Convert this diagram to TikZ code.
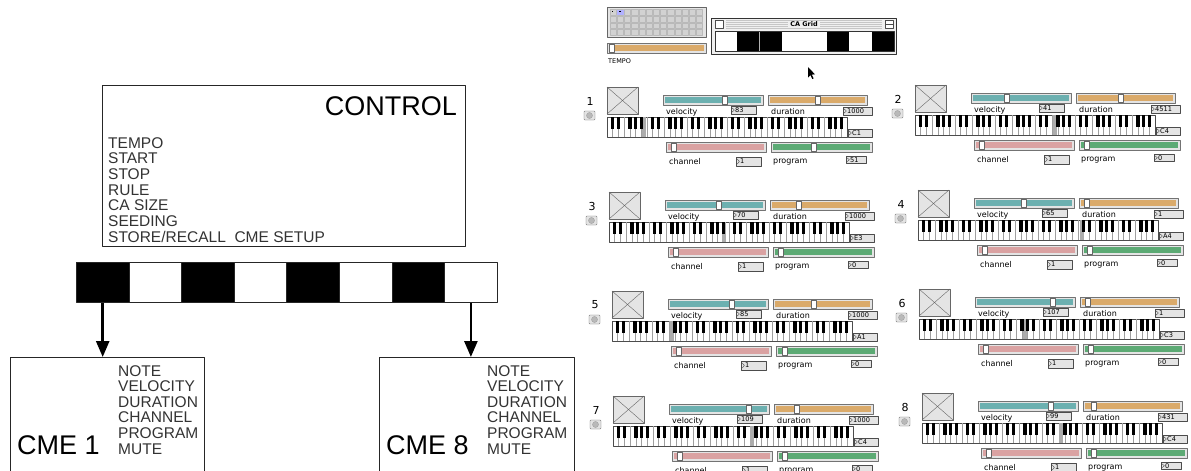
\documentclass[tikz,border=0pt]{standalone}
\usepackage{fontspec}
\setmainfont{Liberation Sans}
\newfontfamily\genevafont{DejaVu Sans}
\usetikzlibrary{positioning,arrows.meta}

\definecolor{velcol}{RGB}{108,176,176}
\definecolor{durcol}{RGB}{218,170,106}
\definecolor{chancol}{RGB}{218,162,162}
\definecolor{progcol}{RGB}{92,170,116}
\definecolor{panelgray}{RGB}{228,228,228}

% slider: x1 y1 x2 y2 colour position
\newcommand{\mslider}[6]{%
  \draw[fill=panelgray, draw=black!55] (#1,#2) rectangle (#3,#4);
  \fill[#5] ({#1+2},{#2+2}) rectangle ({#3-2},{#4-2});
  \draw[fill=white, draw=black!60] ({#1+2+#6*(#3-#1-9)},{#2+1}) rectangle ({#1+7+#6*(#3-#1-9)},{#4-1});
}
% number box: x1 y1 x2 y2 text name
\newcommand{\numbox}[6]{%
  \draw[fill=panelgray, draw=black!70] (#1,#2) rectangle (#3,#4);
  \draw[black!70, line width=0.4pt] ({#1+1.2},{#2+2}) -- ({#1+3.4},{(#2+#4)/2}) -- ({#1+1.2},{#4-2});
  \node[tinytxt] (#6) at ({#1+4},{(#2+#4)/2}) {#5};
}

\tikzset{
  box/.style={draw=black!85, line width=1pt, rectangle, inner sep=0pt, anchor=north west},
  bigtxt/.style={font=\fontsize{27}{27}\selectfont, inner sep=0pt},
  item/.style={font=\fontsize{15.5}{15.7}\selectfont, text=black!80, inner sep=0pt, anchor=base west},
  cell/.style={draw=black!85, line width=0.8pt, minimum width=52.6pt, minimum height=40pt, inner sep=0pt, anchor=north west},
  arr/.style={-{Triangle[length=16pt,width=13pt]}, line width=2.6pt},
  lbl/.style={font=\genevafont\fontsize{8}{8}\selectfont, inner sep=0pt, anchor=base west},
  tinytxt/.style={font=\genevafont\fontsize{6.6}{6.6}\selectfont, inner sep=0pt, anchor=west},
  numtxt/.style={font=\genevafont\fontsize{11}{11}\selectfont, inner sep=0pt},
}

\begin{document}
\begin{tikzpicture}[x=1pt, y=-1pt, line join=round]
\useasboundingbox (0,0) rectangle (1191,471);
\clip (0,0) rectangle (1191,471);

% control box
\node[box, minimum width=363pt, minimum height=161pt] (ctrl) at (102,85) {};
\node[bigtxt, anchor=base east] (ctrltitle) at (457,115) {CONTROL};
\foreach \w [count=\i] in {TEMPO,START,STOP,RULE,CA SIZE,SEEDING,STORE/RECALL\ \ CME SETUP}
  \node[item] (citem\i) at (108,{148+(\i-1)*15.7}) {\w};

% cell strip
\foreach \i in {0,...,7}{
  \pgfmathsetmacro{\cc}{ifthenelse(mod(\i,2)==0,"black","white")}
  \node[cell, fill=\cc] (cell\i) at ({76+\i*52.6},262) {};
}

% CME boxes
\node[box, minimum width=194pt, minimum height=130pt] (cme1) at (10,357) {};
\node[box, minimum width=195pt, minimum height=130pt] (cme8) at (379,357) {};
\node[bigtxt, anchor=base west] (cmet1) at (17,454) {CME 1};
\node[bigtxt, anchor=base west] (cmet8) at (386,454) {CME 8};
\foreach \w [count=\i] in {NOTE,VELOCITY,DURATION,CHANNEL,PROGRAM,MUTE}{
  \node[item] (ma\i) at (118,{376+(\i-1)*15.6}) {\w};
  \node[item] (mb\i) at (487,{376+(\i-1)*15.6}) {\w};
}
\draw[arr] (cell0.south) -- (cell0.south |- cme1.north);
\draw[arr] (cell7.south) -- (cell7.south |- cme8.north);

% small grid window and tempo
\draw[fill=panelgray, draw=black!60] (607,7) rectangle (706,37);
\foreach \r in {0,...,3}
  \foreach \c in {0,...,12}
    \draw[fill=gray!35, draw=gray!55] ({610+\c*7.2},{9.5+\r*6.6}) rectangle ++(6.2,5.6);
\fill[blue!30] (617.4,9.5) rectangle ++(6.2,5.6);
\fill[black] (612,11) rectangle ++(1.4,1.4);
\fill[black] (619.2,11) rectangle ++(1.4,1.4);
\mslider{607}{43}{706}{53}{durcol}{0}
\node[tinytxt, anchor=base west, font=\genevafont\fontsize{6.5}{6.5}\selectfont] (tempo) at (608,63) {TEMPO};

% CA Grid window
\draw[fill=gray!12, draw=black!80, line width=0.9pt] (711,18) rectangle (896,54);
\foreach \yy in {20.5,22.5,...,28.5}
  \draw[gray!45, line width=0.5pt] (726,\yy) -- (882,\yy);
\node[fill=gray!12, inner xsep=2pt, inner ysep=0.5pt, font=\genevafont\bfseries\fontsize{6.5}{6.5}\selectfont] (catitle) at (804,24.5) {CA Grid};
\draw[fill=white, draw=black!70] (715,20.5) rectangle (723,28.5);
\draw[fill=white, draw=black!70] (885,20.5) rectangle (893,28.5);
\draw[black!70] (885,24.5) -- (893,24.5);
\foreach \i/\c in {0/white,1/black,2/black,3/white,4/white,5/black,6/white,7/black}
  \fill[\c] ({715+\i*22.4},31) rectangle ++(22.4,20.5);
\draw[gray!60, line width=0.8pt] (759.8,31) -- (759.8,51.5);
\draw[black!80] (715,31) rectangle (894.2,51.5);

% mouse pointer
\fill (808,67) -- (808,77.5) -- (810.5,75.2) -- (812.3,79) -- (813.6,78.4) -- (811.8,74.6) -- (815,74.4) -- cycle;

% eight CME panels
\foreach \pn/\ox/\oy/\vpos/\vval/\dpos/\dval/\nname/\kx/\ppos/\pval in {
  1/607/87/0.63/83/0.5/1000/C1/37/0.41/51,
  2/915/85/0.34/41/0.45/4511/C4/140/0.03/0,
  3/609/192/0.54/70/0.27/1000/E3/115/0.04/0,
  4/918/190/0.5/65/0.03/1/A4/164/0.04/0,
  5/612/291/0.65/85/0.4/1000/A1/60/0.05/0,
  6/919/289/0.8/107/0.03/1/C3/106/0.04/0,
  7/613/396/0.83/109/0.2/1000/C4/139/0.04/0,
  8/922/393/0.75/99/0.07/431/C4/139/0.04/0}{
\begin{scope}[shift={(\ox,\oy)}]
  \node[numtxt] (num\pn) at (-17,14) {\pn};
  \draw[fill=panelgray, draw=black!60, rounded corners=0.8pt] (-23,24) rectangle (-12,33);
  \draw[fill=gray!55, draw=gray!75] (-17.5,28.5) circle (3);
  \draw[fill=panelgray, draw=black!60] (0,0) rectangle (31,27);
  \draw[black!60] (0,0) -- (31,27) (31,0) -- (0,27);
  \mslider{56}{8}{156}{18}{velcol}{\vpos}
  \node[lbl] (vl\pn) at (59,27) {velocity};
  \numbox{124}{19}{149}{27}{\vval}{vb\pn}
  \mslider{161}{8}{260}{18}{durcol}{\dpos}
  \node[lbl] (dl\pn) at (164,27) {duration};
  \numbox{236}{20}{265}{28}{\dval}{db\pn}
  % keyboard
  \draw[fill=white, draw=black!70] (0,30) rectangle (240,50);
  \foreach \k in {1,...,41}
    \draw[gray!75, line width=0.5pt] ({\k*240/42},30) -- ({\k*240/42},50);
  \fill[gray!65] ({\kx-2},30) rectangle ({\kx+2},50);
  \foreach \oc in {0,...,5}
    \foreach \bk in {1,2,4,5,6}
      \fill ({(\oc*7+\bk)*240/42-1.7},30) rectangle ++(3.4,12);
  \numbox{241}{42}{265}{50}{\nname}{nb\pn}
  \mslider{59}{55}{159}{65}{chancol}{0.03}
  \node[lbl] (cl\pn) at (62,77) {channel};
  \numbox{129}{70}{154}{79}{1}{cb\pn}
  \mslider{164}{55}{265}{65}{progcol}{\ppos}
  \node[lbl] (pl\pn) at (166,76) {program};
  \numbox{239}{69}{259}{76.5}{\pval}{pb\pn}
\end{scope}
}
\end{tikzpicture}
\end{document}
